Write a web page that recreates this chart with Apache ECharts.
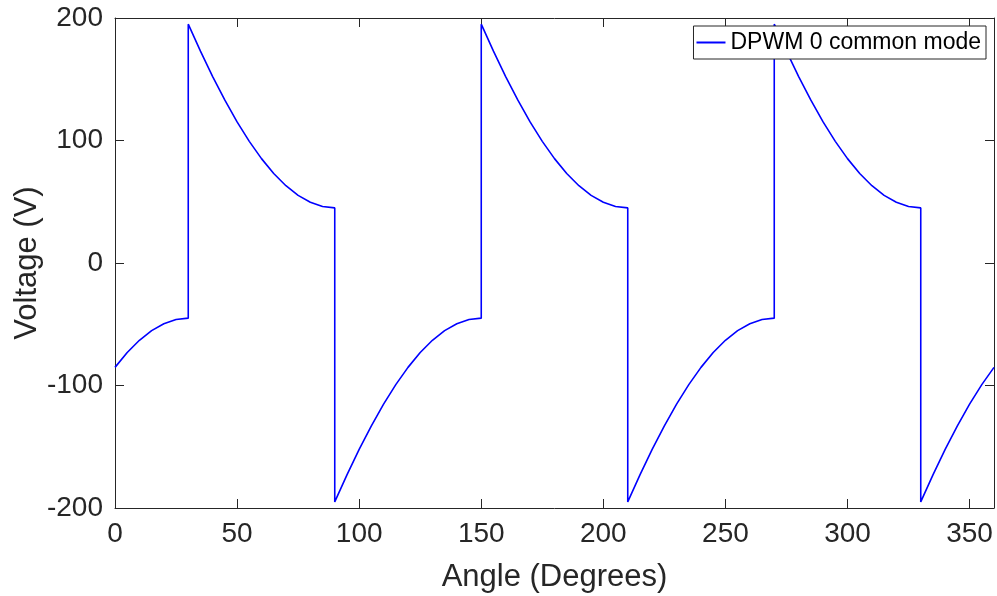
<!DOCTYPE html>
<html>
<head>
<meta charset="utf-8">
<script src="https://cdn.jsdelivr.net/npm/echarts@6/dist/echarts.min.js"></script>
<style>html,body{margin:0;padding:0;background:#fff;}#c{width:997px;height:596px;}</style>
</head>
<body>
<div id="c"></div>
<script>
// Angle (degrees) and common-mode voltage (V)
const angles = [
  0, 5, 10, 15, 20, 25, 30,
  30, 35, 40, 45, 50, 55, 60, 65, 70, 75, 80, 85, 90,
  90, 95, 100, 105, 110, 115, 120, 125, 130, 135, 140, 145, 150,
  150, 155, 160, 165, 170, 175, 180, 185, 190, 195, 200, 205, 210,
  210, 215, 220, 225, 230, 235, 240, 245, 250, 255, 260, 265, 270,
  270, 275, 280, 285, 290, 295, 300, 305, 310, 315, 320, 325, 330,
  330, 335, 340, 345, 350, 355, 360
];
const voltages = [
  -85.2, -73.1, -63.1, -55.2, -49.6, -46.1, -45,
  195, 172.9, 152.2, 132.9, 115.2, 99.3, 85.2, 73.1, 63.1, 55.2, 49.6, 46.1, 45,
  -195, -172.9, -152.2, -132.9, -115.2, -99.3, -85.2, -73.1, -63.1, -55.2, -49.6, -46.1, -45,
  195, 172.9, 152.2, 132.9, 115.2, 99.3, 85.2, 73.1, 63.1, 55.2, 49.6, 46.1, 45,
  -195, -172.9, -152.2, -132.9, -115.2, -99.3, -85.2, -73.1, -63.1, -55.2, -49.6, -46.1, -45,
  195, 172.9, 152.2, 132.9, 115.2, 99.3, 85.2, 73.1, 63.1, 55.2, 49.6, 46.1, 45,
  -195, -172.9, -152.2, -132.9, -115.2, -99.3, -85.2
];
const seriesName = 'DPWM 0 common mode';
const xTitle = 'Angle (Degrees)';
const yTitle = 'Voltage (V)';

const points = angles.map((a, i) => [a, voltages[i]]);
const axisColor = '#262626';
const font = '"Liberation Sans", Arial, Helvetica, sans-serif';

const chart = echarts.init(document.getElementById('c'), null, {renderer: 'canvas'});
chart.setOption({
  animation: false,
  backgroundColor: '#ffffff',
  textStyle: {fontFamily: font},
  grid: {left: 115, right: 3, top: 18, bottom: 88, containLabel: false, outerBoundsMode: 'none'},
  legend: {
    right: 11, top: 26,
    icon: 'rect',
    itemWidth: 29, itemHeight: 2, itemGap: 5,
    padding: [4, 5, 4, 3],
    borderColor: axisColor, borderWidth: 1, backgroundColor: '#ffffff',
    textStyle: {fontSize: 23, color: '#000000', fontFamily: font, lineHeight: 25},
    data: [seriesName]
  },
  xAxis: [{
    type: 'value', min: 0, max: 360, interval: 50,
    name: xTitle, nameLocation: 'middle', nameGap: 54, nameMoveOverlap: false,
    nameTextStyle: {fontSize: 31, color: axisColor, fontFamily: font},
    axisLine: {show: true, onZero: false, lineStyle: {color: axisColor, width: 1}},
    axisTick: {show: true, inside: true, length: 9, lineStyle: {color: axisColor}},
    axisLabel: {fontSize: 28, color: axisColor, margin: 12, showMaxLabel: false, fontFamily: font},
    splitLine: {show: false}
  }, {
    type: 'value', min: 0, max: 360, interval: 50, position: 'top',
    axisLine: {show: true, onZero: false, lineStyle: {color: axisColor, width: 1}},
    axisTick: {show: true, inside: true, length: 9, lineStyle: {color: axisColor}},
    axisLabel: {show: false}, splitLine: {show: false}
  }],
  yAxis: [{
    type: 'value', min: -200, max: 200, interval: 100,
    name: yTitle, nameLocation: 'middle', nameGap: 72, nameMoveOverlap: false,
    nameTextStyle: {fontSize: 31, color: axisColor, fontFamily: font},
    axisLine: {show: true, onZero: false, lineStyle: {color: axisColor, width: 1}},
    axisTick: {show: true, inside: true, length: 9, lineStyle: {color: axisColor}},
    axisLabel: {fontSize: 28, color: axisColor, margin: 12, fontFamily: font},
    splitLine: {show: false}
  }, {
    type: 'value', min: -200, max: 200, interval: 100, position: 'right',
    axisLine: {show: true, onZero: false, lineStyle: {color: axisColor, width: 1}},
    axisTick: {show: true, inside: true, length: 9, lineStyle: {color: axisColor}},
    axisLabel: {show: false}, splitLine: {show: false}
  }],
  series: [{
    name: seriesName,
    type: 'line',
    xAxisIndex: 0, yAxisIndex: 0,
    data: points,
    symbol: 'none',
    smooth: false,
    lineStyle: {color: '#0000ff', width: 1.6},
    itemStyle: {color: '#0000ff'}
  }]
});
</script>
</body>
</html>
